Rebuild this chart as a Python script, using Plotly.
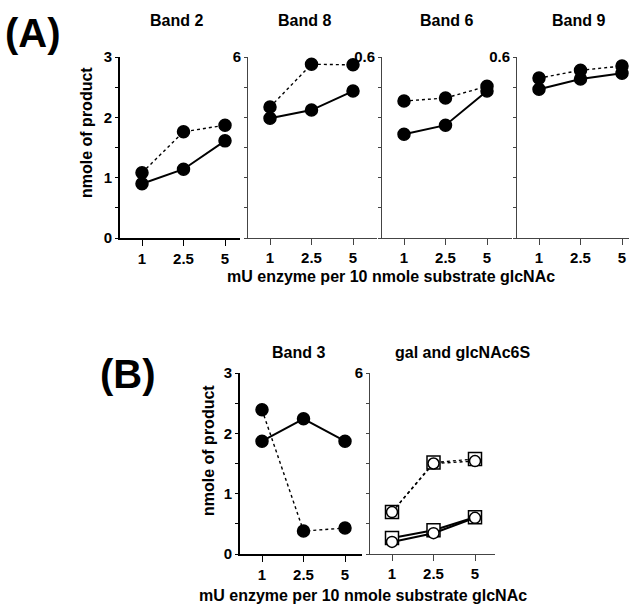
import plotly.graph_objects as go

W, H = 629, 605

# ---------------- data ----------------
doses = ["1", "2.5", "5"]

# Panel A
band2_dotted = [1.08, 1.76, 1.87]
band2_solid = [0.90, 1.14, 1.61]
band8_dotted = [4.34, 5.76, 5.74]
band8_solid = [3.97, 4.24, 4.87]
band6_dotted = [0.454, 0.464, 0.503]
band6_solid = [0.344, 0.374, 0.487]
band9_dotted = [0.530, 0.556, 0.570]
band9_solid = [0.493, 0.527, 0.546]

# Panel B
band3_solid = [1.87, 2.24, 1.87]
band3_dotted = [2.39, 0.38, 0.43]
gal_dotted = [1.39, 3.03, 3.15]        # squares
glc6s_dotted = [1.39, 3.00, 3.08]      # circles
gal_solid = [0.53, 0.79, 1.22]         # squares
glc6s_solid = [0.40, 0.69, 1.20]       # circles

FONT = "Liberation Sans, Arial, sans-serif"
PX_STEP = 41.5   # px per category
LEAD = 22.0      # px from axis start to first category

fig = go.Figure()

def px2fx(x):
    return x / W

def px2fy(y):
    return 1 - y / H

panels = [
    # name, x0, x1, ytop, ybot, ymax, yticks, ylabels, strong axis
    ("1", 120, 240, 57, 238, 3, [0, 0.5, 1, 1.5, 2, 2.5, 3], ["0", "", "1", "", "2", "", "3"], True),
    ("2", 248, 377, 57, 238, 6, [0, 1, 2, 3, 4, 5, 6], ["", "", "", "", "", "", "6"], False),
    ("3", 382, 512, 57, 238, 0.6, [0, 0.1, 0.2, 0.3, 0.4, 0.5, 0.6], ["", "", "", "", "", "", "0.6"], False),
    ("4", 517, 629, 57, 238, 0.6, [0, 0.1, 0.2, 0.3, 0.4, 0.5, 0.6], ["", "", "", "", "", "", "0.6"], False),
    ("5", 240, 362, 373, 554, 3, [0, 0.5, 1, 1.5, 2, 2.5, 3], ["0", "", "1", "", "2", "", "3"], True),
    ("6", 370, 495, 373, 554, 6, [0, 1, 2, 3, 4, 5, 6], ["", "", "", "", "", "", "6"], False),
]

layout_axes = {}
for name, x0, x1, yt, yb, ymax, ytv, ytt, strong in panels:
    sfx = "" if name == "1" else name
    r0 = -LEAD / PX_STEP
    r1 = r0 + (x1 - x0) / PX_STEP
    col = "black" if strong else "#444444"
    lw = 1.6 if strong else 1.0
    layout_axes["xaxis" + sfx] = dict(
        domain=[px2fx(x0), px2fx(x1)], range=[r0, r1], anchor="y" + sfx,
        tickvals=[0, 1, 2], ticktext=doses, ticks="outside", ticklen=6,
        tickcolor=col, tickwidth=1.2, showline=True, linecolor=col, linewidth=lw,
        showgrid=False, zeroline=False, automargin=False,
        tickfont=dict(family=FONT, size=15, color="black", weight="bold"),
    )
    layout_axes["yaxis" + sfx] = dict(
        domain=[px2fy(yb), px2fy(yt)], range=[0, ymax], anchor="x" + sfx,
        tickvals=ytv, ticktext=ytt, ticks="outside", ticklen=3,
        tickcolor=col, tickwidth=1, showline=True, linecolor=col, linewidth=lw,
        showgrid=False, zeroline=False, automargin=False,
        tickfont=dict(family=FONT, size=15, color="black", weight="bold"),
    )

def add_line(vals, ax, dash, symbol="circle", fill="black", size=12, lw=None):
    sfx = "" if ax == "1" else ax
    fig.add_trace(go.Scatter(
        x=[0, 1, 2], y=vals, xaxis="x" + sfx, yaxis="y" + sfx,
        mode="lines+markers",
        line=dict(color="black", width=lw if lw else (1.4 if dash == "dot" else 2), dash=dash),
        marker=dict(symbol=symbol, size=size, color=fill, line=dict(color="black", width=1.5)),
        cliponaxis=False, showlegend=False, hoverinfo="skip",
    ))

add_line(band2_dotted, "1", "dot")
add_line(band2_solid, "1", "solid")
add_line(band8_dotted, "2", "dot")
add_line(band8_solid, "2", "solid")
add_line(band6_dotted, "3", "dot")
add_line(band6_solid, "3", "solid")
add_line(band9_dotted, "4", "dot")
add_line(band9_solid, "4", "solid")
add_line(band3_dotted, "5", "dot")
add_line(band3_solid, "5", "solid")
add_line(gal_dotted, "6", "dot", symbol="square", fill="white", size=13)
add_line(glc6s_dotted, "6", "dot", symbol="circle", fill="white", size=11)
add_line(gal_solid, "6", "solid", symbol="square", fill="white", size=13)
add_line(glc6s_solid, "6", "solid", symbol="circle", fill="white", size=11)

annots = []
def txt(text, x, y, size=16, angle=0, xanchor="center"):
    annots.append(dict(text=text, x=px2fx(x), y=px2fy(y), xref="paper", yref="paper",
                       showarrow=False, textangle=angle, xanchor=xanchor, yanchor="middle",
                       font=dict(family=FONT, size=size, color="black", weight="bold")))

txt("(A)", 33, 33, size=40)
txt("(B)", 128, 374, size=40)
txt("Band 2", 176, 20)
txt("Band 8", 304, 20)
txt("Band 6", 447, 20)
txt("Band 9", 578, 20)
txt("Band 3", 298, 352)
txt("gal and glcNAc6S", 462, 352)
txt("nmole of product", 87, 132, angle=-90)
txt("nmole of product", 208, 450, angle=-90)
txt("mU enzyme per 10 nmole substrate glcNAc", 391, 277)
txt("mU enzyme per 10 nmole substrate glcNAc", 197, 595, xanchor="left")

fig.update_layout(
    template="none",
    width=W, height=H, margin=dict(l=0, r=0, t=0, b=0, autoexpand=False),
    paper_bgcolor="white", plot_bgcolor="white",
    annotations=annots, showlegend=False, **layout_axes,
)

fig.write_html("out.html", config={"displayModeBar": False},
               post_script="document.body.style.margin='0px';document.body.style.overflow='hidden';")
